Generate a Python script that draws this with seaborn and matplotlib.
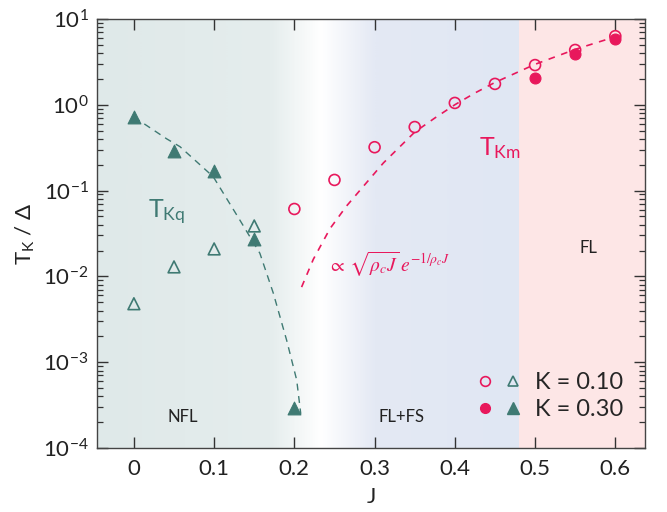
import numpy as np
import pandas as pd
import matplotlib
matplotlib.use("Agg")
import matplotlib.pyplot as plt
from matplotlib.colors import LinearSegmentedColormap, to_rgb
from matplotlib.lines import Line2D
from matplotlib.legend_handler import HandlerTuple
import seaborn as sns

# ---- data -------------------------------------------------------------
J_q = [0.0, 0.05, 0.10, 0.15, 0.20]
Tkq_K030 = [0.72, 0.29, 0.169, 0.0273, 0.00029]
J_q_K010 = [0.0, 0.05, 0.10, 0.15]
Tkq_K010 = [0.0048, 0.0129, 0.0209, 0.0387]

J_m = [0.20, 0.25, 0.30, 0.35, 0.40, 0.45, 0.50, 0.55, 0.60]
Tkm_K010 = [0.061, 0.133, 0.32, 0.55, 1.05, 1.75, 2.9, 4.35, 6.3]
J_m_K030 = [0.50, 0.55, 0.60]
Tkm_K030 = [2.05, 3.9, 5.85]

# guide curves
J_qfit = [0.0, 0.041, 0.0574, 0.0989, 0.132, 0.157, 0.1737, 0.1904, 0.2029, 0.208]
T_qfit = [0.72, 0.40, 0.325, 0.145, 0.0454, 0.0186, 0.0064, 0.0018, 0.00062, 0.00025]
J_mfit = [0.209, 0.2236, 0.2444, 0.265, 0.286, 0.311, 0.35, 0.375, 0.40, 0.425,
          0.45, 0.50, 0.55, 0.60]
T_mfit = [0.0075, 0.0158, 0.036, 0.066, 0.112, 0.21, 0.48, 0.70, 1.0, 1.37,
          1.82, 2.96, 4.42, 6.2]

xticks = [0, 0.1, 0.2, 0.3, 0.4, 0.5, 0.6]
xlabels = ["0", "0.1", "0.2", "0.3", "0.4", "0.5", "0.6"]

TEAL = "#3f7a73"
PINK = "#e8185c"

# ---- style ------------------------------------------------------------
sns.set_theme(style="ticks")
plt.rcParams["font.family"] = ["Lato", "DejaVu Sans"]
plt.rcParams["mathtext.fontset"] = "custom"
plt.rcParams["mathtext.rm"] = "Lato"
plt.rcParams["mathtext.it"] = "Lato:italic"
plt.rcParams["mathtext.bf"] = "Lato:bold"

fig = plt.figure(figsize=(6.67, 5.12), dpi=100)
ax = fig.add_axes([0.1454, 0.125, 0.8216, 0.838])

XMIN, XMAX = -0.046, 0.637
ax.set_xlim(XMIN, XMAX)
ax.set_yscale("log")
ax.set_ylim(1e-4, 10)

# ---- background regions ----------------------------------------------
stops = [(-0.046, "#dfe9e9"), (0.17, "#e5eded"), (0.233, "#ffffff"),
         (0.30, "#e4e9f4"), (0.48, "#e0e7f3")]
pos = [(s - XMIN) / (0.48 - XMIN) for s, _ in stops]
cmap = LinearSegmentedColormap.from_list("bg", list(zip(pos, [to_rgb(c) for _, c in stops])))
grad = np.linspace(0, 1, 600).reshape(1, -1)
ax.imshow(grad, cmap=cmap, aspect="auto", extent=(XMIN, 0.48, 1e-4, 10),
          zorder=0, interpolation="bilinear")
ax.axvspan(0.48, XMAX, color="#fde6e6", zorder=0, lw=0)

# ---- guide curves -----------------------------------------------------
sns.lineplot(x=J_qfit, y=T_qfit, ax=ax, color=TEAL, lw=1.0, sort=False,
             zorder=2).lines[-1].set_dashes([5, 4])
sns.lineplot(x=J_mfit, y=T_mfit, ax=ax, color=PINK, lw=1.2, sort=False,
             zorder=2).lines[-1].set_dashes([4, 4])

# ---- data points ------------------------------------------------------
sns.scatterplot(x=J_q, y=Tkq_K030, ax=ax, marker="^", s=85, color=TEAL,
                edgecolor=TEAL, linewidth=0.8, zorder=3)
sns.scatterplot(x=J_q_K010, y=Tkq_K010, ax=ax, marker="^", s=72, facecolor="none",
                edgecolor=TEAL, linewidth=1.2, zorder=3)
sns.scatterplot(x=J_m_K030, y=Tkm_K030, ax=ax, marker="o", s=62, color=PINK,
                edgecolor=PINK, linewidth=0.8, zorder=3)
sns.scatterplot(x=J_m, y=Tkm_K010, ax=ax, marker="o", s=62, facecolor="none",
                edgecolor=PINK, linewidth=1.2, zorder=4)

# ---- annotations ------------------------------------------------------
ax.text(0.018, 0.056, r"T$_{\mathregular{Kq}}$", color=TEAL, fontsize=18,
        va="center", ha="left")
ax.text(0.43, 0.31, r"T$_{\mathregular{Km}}$", color=PINK, fontsize=18,
        va="center", ha="left")
ax.text(0.242, 0.0136, r"$\propto\,\sqrt{\rho_c J}\,e^{-1/\rho_c J}$", color=PINK,
        fontsize=14, va="center", ha="left", math_fontfamily="stix")
ax.text(0.061, 2.3e-4, "NFL", fontsize=12, ha="center", va="center", color="#222222")
ax.text(0.334, 2.3e-4, "FL+FS", fontsize=12, ha="center", va="center", color="#222222")
ax.text(0.566, 0.0215, "FL", fontsize=12, ha="center", va="center", color="#222222")

# ---- legend -----------------------------------------------------------
h_o = Line2D([], [], ls="none", marker="o", ms=7, mfc="none", mec=PINK, mew=1.2)
h_to = Line2D([], [], ls="none", marker="^", ms=7.5, mfc="none", mec=TEAL, mew=1.2)
h_f = Line2D([], [], ls="none", marker="o", ms=7, mfc=PINK, mec=PINK)
h_tf = Line2D([], [], ls="none", marker="^", ms=8, mfc=TEAL, mec=TEAL)
ax.legend([(h_o, h_to), (h_f, h_tf)], ["K = 0.10", "K = 0.30"],
          handler_map={tuple: HandlerTuple(ndivide=None, pad=0.5)},
          loc="lower right", bbox_to_anchor=(1.0, 0.015), frameon=False,
          fontsize=17, handlelength=1.9, handletextpad=0.6, labelspacing=0.25)

# ---- axes -------------------------------------------------------------
ax.set_xticks(xticks)
ax.set_xticklabels(xlabels)
ax.set_yticks([1e-4, 1e-3, 1e-2, 1e-1, 1, 10])
ax.set_yticklabels([r"10$^{\mathregular{-4}}$", r"10$^{\mathregular{-3}}$",
                    r"10$^{\mathregular{-2}}$", r"10$^{\mathregular{-1}}$",
                    r"10$^{\mathregular{0}}$", r"10$^{\mathregular{1}}$"])
ax.yaxis.set_minor_locator(matplotlib.ticker.LogLocator(base=10, subs=np.arange(2, 10)))
ax.yaxis.set_minor_formatter(matplotlib.ticker.NullFormatter())
ax.tick_params(axis="both", which="both", direction="in", top=True, right=True,
               colors="#333333", labelcolor="#222222", labelsize=16)
ax.tick_params(which="major", length=8, width=1.0)
ax.tick_params(which="minor", length=4.5, width=0.9)
ax.tick_params(axis="x", pad=8)
ax.tick_params(axis="y", pad=6)
for sp in ax.spines.values():
    sp.set_color("#444444")
    sp.set_linewidth(1.0)

ax.set_xlabel("J", fontsize=16, color="#222222", labelpad=6)
ax.set_ylabel(r"T$_{\mathregular{K}}$ / Δ", fontsize=16, color="#222222", labelpad=4)

fig.savefig("out.png", dpi=100)
